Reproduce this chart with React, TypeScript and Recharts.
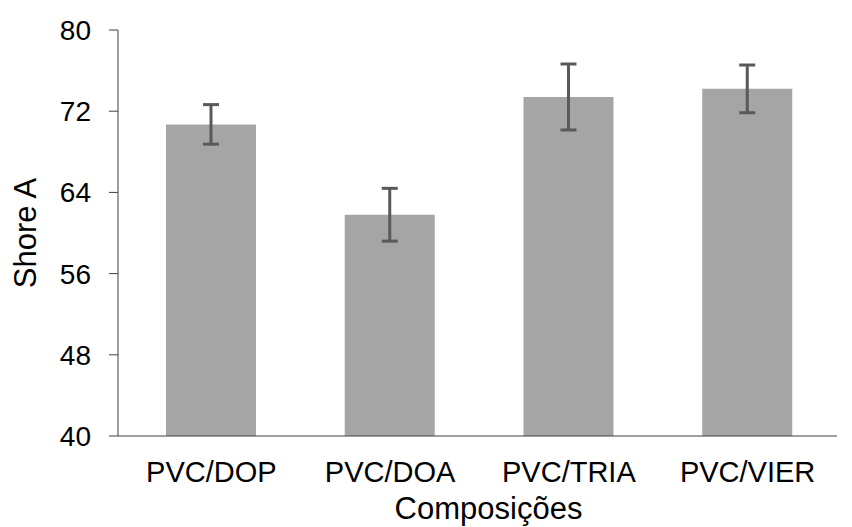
import { BarChart, Bar, XAxis, YAxis, ErrorBar } from 'recharts';

// values
const categories = ['PVC/DOP', 'PVC/DOA', 'PVC/TRIA', 'PVC/VIER'];
const shoreA = [70.7, 61.8, 73.4, 74.2];
const errors = [1.95, 2.6, 3.25, 2.35];
const yTicks = [40, 48, 56, 64, 72, 80];

const chartData = categories.map((name, i) => ({
    name,
    value: shoreA[i],
    err: errors[i],
}));

const font = '"Liberation Sans", Arial, sans-serif';

export default function App() {
    return (
        <div style={{ position: 'absolute', left: 0, top: 0, width: 852, height: 527, background: '#fff' }}>
            <BarChart
                width={852}
                height={527}
                data={chartData}
                margin={{ top: 30, right: 15, bottom: 0, left: 0 }}
                style={{ fontFamily: font }}
            >
                <XAxis
                    dataKey="name"
                    height={91}
                    stroke="#404040"
                    padding={{ left: 4, right: 0 }}
                    tickLine={false}
                    tickSize={0}
                    tickMargin={25}
                    tick={{ fill: '#000', fontSize: 29 }}
                    label={{ value: 'Composições', position: 'insideBottom', offset: 8, dx: 11, fill: '#000', fontSize: 31 }}
                />
                <YAxis
                    width={118}
                    domain={[40, 80]}
                    ticks={yTicks}
                    allowDataOverflow
                    stroke="#404040"
                    tickSize={9}
                    tickMargin={18}
                    tick={{ fill: '#000', fontSize: 28 }}
                    label={{ value: 'Shore A', angle: -90, position: 'insideLeft', offset: 25, fill: '#000', fontSize: 31, style: { textAnchor: 'middle' } }}
                />
                <Bar dataKey="value" fill="#a5a5a5" barSize={90} isAnimationActive={false}>
                    <ErrorBar dataKey="err" width={8} stroke="#595959" strokeWidth={3} />
                </Bar>
            </BarChart>
        </div>
    );
}
